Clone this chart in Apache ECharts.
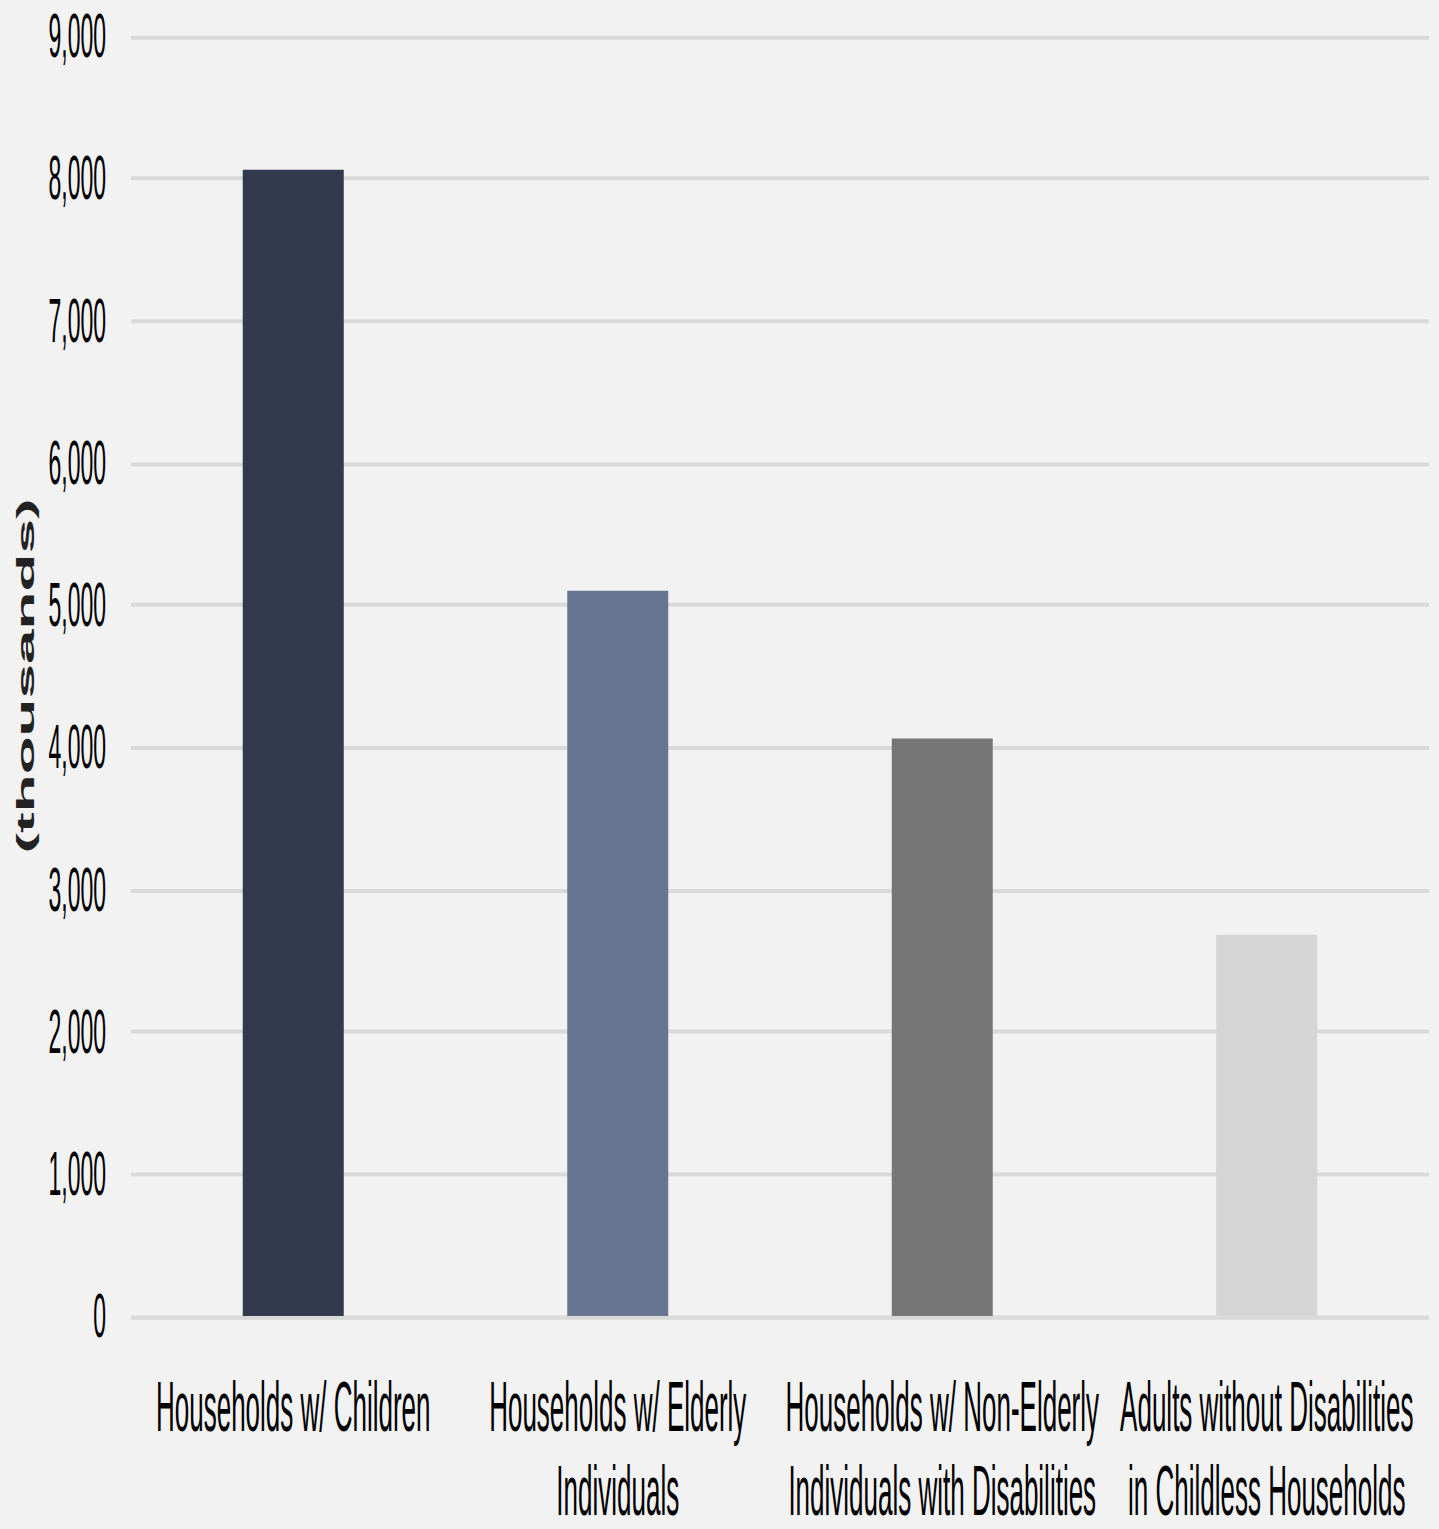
<!DOCTYPE html>
<html>
<head>
<meta charset="utf-8">
<script src="https://cdn.jsdelivr.net/npm/echarts@6/dist/echarts.min.js"></script>
<style>
  html, body { margin: 0; padding: 0; background: #F2F2F2; overflow: hidden; }
  #wrap { position: absolute; left: 0; top: 0; width: 1439px; height: 1529px; overflow: hidden; }
  #chart { position: absolute; left: 0; top: 0; width: 1439px; height: 566px; transform: scaleY(2.7); transform-origin: 0 0; }
</style>
</head>
<body>
<div id="wrap"><div id="chart"></div></div>
<script>
const categories = [
  "Households w/ Children",
  "Households w/ Elderly\nIndividuals",
  "Households w/ Non-Elderly\nIndividuals with Disabilities",
  "Adults without Disabilities\nin Childless Households"
];
const values = [8060, 5100, 4060, 2680];
const barColors = ["#333A4D", "#687590", "#767676", "#D6D5D6"];
const yTicks = { min: 0, max: 9000, interval: 1000 };

const chart = echarts.init(document.getElementById('chart'), null, { renderer: 'svg', width: 1439, height: 566 });
chart.setOption({
  backgroundColor: '#F2F2F2',
  animation: false,
  grid: { left: 131, right: 10, top: 13.33, bottom: 78.6, containLabel: false, outerBoundsMode: 'none' },
  xAxis: {
    type: 'category',
    data: categories,
    axisLine: { show: false },
    axisTick: { show: false },
    axisLabel: {
      interval: 0,
      fontFamily: 'Liberation Sans',
      fontSize: 26,
      lineHeight: 31,
      color: '#000',
      margin: 18
    }
  },
  yAxis: {
    type: 'value',
    min: yTicks.min,
    max: yTicks.max,
    interval: yTicks.interval,
    name: '(thousands)',
    nameLocation: 'middle',
    nameGap: 93,
    nameTextStyle: {
      fontFamily: 'Liberation Sans',
      fontWeight: 'bold',
      fontSize: 23,
      color: '#222'
    },
    axisLine: { show: false },
    axisTick: { show: false },
    axisLabel: {
      fontFamily: 'Liberation Sans',
      fontSize: 23,
      color: '#000',
      margin: 25,
      formatter: v => v.toLocaleString('en-US')
    },
    splitLine: { lineStyle: { color: '#D9D9D9', width: 1.5 } }
  },
  series: [{
    type: 'bar',
    barWidth: 101,
    data: values.map((v, i) => ({ value: v, itemStyle: { color: barColors[i] } }))
  }]
});
</script>
</body>
</html>
